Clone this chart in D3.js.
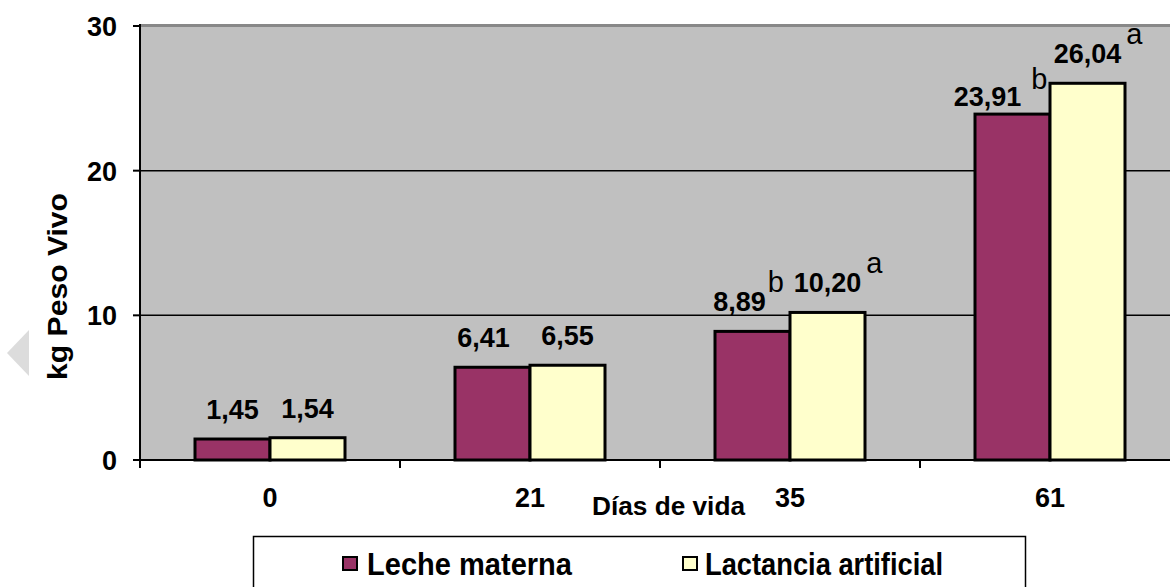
<!DOCTYPE html>
<html>
<head>
<meta charset="utf-8">
<script src="https://cdn.jsdelivr.net/npm/d3@7/dist/d3.min.js"></script>
<style>
    body { margin: 0; background: #fff; }
    svg { display: block; font-family: "Liberation Sans", Arial, sans-serif; font-weight: bold; }
</style>
</head>
<body>
<div class="js-chart"></div>
<script>
'use strict';

//chart data
var dias = ['0', '21', '35', '61'];
var series = ['Leche materna', 'Lactancia artificial'];
var leche = [1.45, 6.41, 8.89, 23.91];
var artificial = [1.54, 6.55, 10.20, 26.04];
var lecheSig = ['', '', 'b', 'b'];
var artificialSig = ['', '', 'a', 'a'];
var yTicks = [0, 10, 20, 30];

var colors = ['#993366', '#ffffcc'];

//label nudges (layout only, like excel moved them)
var lecheNudge = [[0, 0], [-9, 0], [-13, 0], [-25, 12]];
var artificialNudge = [[0, 0], [0, 0], [0, 0], [0, 0]];
var sigGap = [0, 0, 2, 10, 5, 5];

var W = 1170, H = 587;
var plot = { left: 140, top: 26, right: 1180, bottom: 460 };

var svg = d3.select('.js-chart').append('svg')
    .attr('width', W)
    .attr('height', H);

var x0 = d3.scaleBand().domain(dias).range([plot.left, plot.right]);
var x1 = d3.scaleBand().domain(series).range([55, 205]);
var y = d3.scaleLinear().domain([0, 30]).range([plot.bottom, plot.top]);

//plot background
svg.append('rect')
    .attr('x', plot.left)
    .attr('y', plot.top)
    .attr('width', plot.right - plot.left)
    .attr('height', plot.bottom - plot.top)
    .style('fill', '#c0c0c0');

//gridlines
svg.selectAll('.js-grid').data(yTicks.filter(function (d) { return d > 0 && d < 30; }))
    .enter().append('line')
    .attr('class', 'js-grid')
    .attr('x1', plot.left).attr('x2', plot.right)
    .attr('y1', function (d) { return y(d); })
    .attr('y2', function (d) { return y(d); })
    .style('stroke', '#000')
    .style('stroke-width', 1.5);

//top border of plot area
svg.append('line')
    .attr('x1', plot.left).attr('x2', plot.right)
    .attr('y1', plot.top - 0.5).attr('y2', plot.top - 0.5)
    .style('stroke', '#888')
    .style('stroke-width', 3);

//bars
var rows = dias.map(function (d, i) {
    return [
        { dia: d, s: series[0], v: leche[i], sig: lecheSig[i], nudge: lecheNudge[i], gap: sigGap[i] },
        { dia: d, s: series[1], v: artificial[i], sig: artificialSig[i], nudge: artificialNudge[i], gap: sigGap[i + 2] }
    ];
});

var groups = svg.selectAll('.js-group').data(rows).enter().append('g')
    .attr('class', 'js-group')
    .attr('transform', function (d, i) { return 'translate(' + x0(dias[i]) + ',0)'; });

groups.selectAll('rect').data(function (d) { return d; }).enter().append('rect')
    .attr('x', function (d) { return x1(d.s); })
    .attr('y', function (d) { return y(d.v); })
    .attr('width', x1.bandwidth())
    .attr('height', function (d) { return y(0) - y(d.v); })
    .style('fill', function (d, i) { return colors[i]; })
    .style('stroke', '#000')
    .style('stroke-width', 3);

//value labels with significance letters
var labels = groups.selectAll('text').data(function (d) { return d; }).enter().append('text')
    .attr('x', function (d) { return x1(d.s) + x1.bandwidth() / 2 + d.nudge[0]; })
    .attr('y', function (d) { return y(d.v) - 20 + d.nudge[1]; })
    .attr('text-anchor', 'middle')
    .style('font-size', '27px');

labels.append('tspan')
    .text(function (d) { return d3.format('.2f')(d.v).replace('.', ','); });

//letters sit after the number, so shift the whole label when present
labels.each(function (d) {
    if (!d.sig) { return; }
    var t = d3.select(this);
    var w = this.getComputedTextLength();
    var cx = +t.attr('x');
    t.attr('text-anchor', 'start').attr('x', cx - w / 2);
    t.append('tspan')
        .attr('dx', d.gap)
        .attr('dy', d.s === series[0] && d.nudge[1] ? -17 : -19)
        .style('font-weight', 'normal')
        .style('font-size', '29px')
        .text(d.sig);
});

//y axis
svg.append('line')
    .attr('x1', plot.left).attr('x2', plot.left)
    .attr('y1', plot.top - 2).attr('y2', plot.bottom + 8)
    .style('stroke', '#000').style('stroke-width', 2);

svg.selectAll('.js-ytick').data(yTicks).enter().append('line')
    .attr('x1', plot.left - 7).attr('x2', plot.left)
    .attr('y1', function (d) { return y(d); })
    .attr('y2', function (d) { return y(d); })
    .style('stroke', '#000').style('stroke-width', 2);

svg.selectAll('.js-ylab').data(yTicks).enter().append('text')
    .attr('x', 117)
    .attr('y', function (d) { return y(d) + 10; })
    .attr('text-anchor', 'end')
    .style('font-size', '27px')
    .text(function (d) { return d; });

//x axis
svg.append('line')
    .attr('x1', plot.left).attr('x2', plot.right)
    .attr('y1', plot.bottom).attr('y2', plot.bottom)
    .style('stroke', '#000').style('stroke-width', 2);

svg.selectAll('.js-xtick').data(dias).enter().append('line')
    .attr('x1', function (d) { return x0(d); })
    .attr('x2', function (d) { return x0(d); })
    .attr('y1', plot.bottom).attr('y2', plot.bottom + 8)
    .style('stroke', '#000').style('stroke-width', 2);

svg.selectAll('.js-xlab').data(dias).enter().append('text')
    .attr('x', function (d) { return x0(d) + x0.bandwidth() / 2; })
    .attr('y', 507)
    .attr('text-anchor', 'middle')
    .style('font-size', '27px')
    .text(function (d) { return d; });

//axis titles
svg.append('text')
    .attr('x', 592).attr('y', 515)
    .attr('textLength', 153).attr('lengthAdjust', 'spacingAndGlyphs')
    .style('font-size', '25px')
    .text('Días de vida');

svg.append('text')
    .attr('transform', 'translate(67,380) rotate(-90)')
    .attr('textLength', 187).attr('lengthAdjust', 'spacingAndGlyphs')
    .style('font-size', '27px')
    .text('kg Peso Vivo');

//legend
svg.append('rect')
    .attr('x', 253.5).attr('y', 536.5)
    .attr('width', 1025 - 253).attr('height', 80)
    .style('fill', '#fff')
    .style('stroke', '#000').style('stroke-width', 1.5);

var legendPos = [{ sx: 343, tx: 367, tw: 205 }, { sx: 683, tx: 705, tw: 238 }];

var leg = svg.selectAll('.js-leg').data(series).enter().append('g')
    .attr('class', 'js-leg');

leg.append('rect')
    .attr('x', function (d, i) { return legendPos[i].sx; })
    .attr('y', 557)
    .attr('width', 14).attr('height', 13)
    .style('fill', function (d, i) { return colors[i]; })
    .style('stroke', '#000').style('stroke-width', 2);

leg.append('text')
    .attr('x', function (d, i) { return legendPos[i].tx; })
    .attr('y', 575)
    .attr('textLength', function (d, i) { return legendPos[i].tw; })
    .attr('lengthAdjust', 'spacingAndGlyphs')
    .style('font-size', '32px')
    .text(function (d) { return d; });

//slideshow arrow on the left edge
svg.append('path')
    .attr('d', 'M7,353 L29,330 L29,376 Z')
    .style('fill', '#dcdcdc');
</script>
</body>
</html>
